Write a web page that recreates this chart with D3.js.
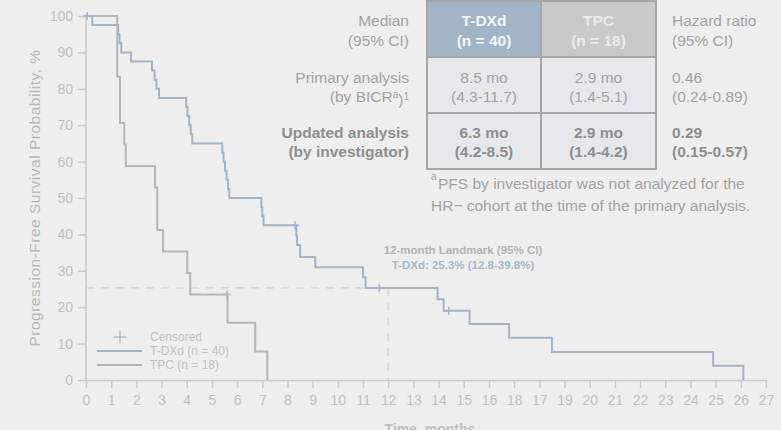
<!DOCTYPE html>
<html>
<head>
<meta charset="utf-8">
<script src="https://cdn.jsdelivr.net/npm/d3@7"></script>
<style>
  body { margin: 0; background: #eeeeee; }
  svg { display: block; font-family: "Liberation Sans", Arial, sans-serif; }
</style>
</head>
<body>
<svg id="chart" width="781" height="430"></svg>
<script>
// Kaplan-Meier steps: time (months) and PFS (%).
var tdxdTimes = [0, 0.25, 1.28, 1.33, 1.4, 1.79, 2.62, 2.72, 2.8, 2.9, 3.98, 4.03, 4.1, 4.16, 4.22,
  5.41, 5.46, 5.52, 5.58, 5.64, 5.69, 6.96, 7.0, 7.05, 8.35, 8.38, 8.5, 9.1, 11.0, 11.1,
  13.96, 14.2, 15.23, 16.8, 18.5, 24.9, 26.1];
var tdxdSurv = [100, 97.5, 95, 92.5, 90, 87.5, 85, 82.5, 80, 77.5, 75, 72.5, 70, 67.5, 65,
  62.5, 60, 57.5, 55, 52.5, 50, 47.5, 45, 42.5, 39.7, 37.1, 33.8, 31.0, 28.2, 25.3,
  22.2, 19.0, 15.4, 11.6, 7.7, 3.9, 0];
var tdxdCensorTimes = [0.05, 8.3, 11.65, 14.4];

var tpcTimes = [0, 1.24, 1.35, 1.52, 1.58, 2.74, 2.83, 3.06, 4.02, 4.14, 5.62, 6.72, 7.2];
var tpcSurv = [100, 83.3, 70.6, 64.7, 58.8, 52.9, 41.2, 35.3, 29.4, 23.5, 15.7, 7.8, 0];
var tpcCensorTimes = [5.6];

var xTickValues = d3.range(0, 28);
var xTickLabels = ["0", "1", "2", "3", "4", "5", "6", "7", "8", "9", "10", "11", "12", "13", "14",
  "15", "16", "18", "17", "19", "20", "21", "22", "23", "24", "25", "26", "27"];
var yTickValues = [0, 10, 20, 30, 40, 50, 60, 70, 80, 90, 100];

var landmarkMonth = 12;
var landmarkValue = 25.3;
var landmarkLines = ["12-month Landmark (95% CI)", "T-DXd: 25.3% (12.8-39.8%)"];

var legendLabels = ["Censored", "T-DXd (n = 40)", "TPC (n = 18)"];

// Summary table
var rowLabels = [["Median", "(95% CI)"], ["Primary analysis", "(by BICR"], ["Updated analysis", "(by investigator)"]];
var tdxdCells = [["T-DXd", "(n = 40)"], ["8.5 mo", "(4.3-11.7)"], ["6.3 mo", "(4.2-8.5)"]];
var tpcCells = [["TPC", "(n = 18)"], ["2.9 mo", "(1.4-5.1)"], ["2.9 mo", "(1.4-4.2)"]];
var hrCells = [["Hazard ratio", "(95% CI)"], ["0.46", "(0.24-0.89)"], ["0.29", "(0.15-0.57)"]];
var footnoteLines = ["PFS by investigator was not analyzed for the", "HR\u2212 cohort at the time of the primary analysis."];

var colors = {
  tdxd: "#a4b4c7",
  tpc: "#b6b6b6",
  axis: "#c9c9c9",
  tick: "#bfbfbf",
  text: "#a2a2a2",
  bold: "#8e8e8e"
};

var svg = d3.select("#chart");

var x = d3.scaleLinear().domain([0, 27]).range([86, 766]);
var y = d3.scaleLinear().domain([0, 100]).range([380, 16]);

// Axes
var xAxis = svg.append("g")
    .attr("transform", "translate(0," + y(0) + ")")
    .call(d3.axisBottom(x).tickValues(xTickValues)
      .tickFormat(function(d, i) { return xTickLabels[i]; })
      .tickSize(8).tickPadding(7).tickSizeOuter(0));

var yAxis = svg.append("g")
    .attr("transform", "translate(" + x(0) + ",0)")
    .call(d3.axisLeft(y).tickValues(yTickValues).tickSize(8).tickPadding(5).tickSizeOuter(0));

[xAxis, yAxis].forEach(function(a) {
  a.select(".domain").attr("stroke", colors.axis).attr("stroke-width", 1.5);
  a.selectAll(".tick line").attr("stroke", colors.axis).attr("stroke-width", 1.5);
  a.selectAll(".tick text")
    .attr("fill", colors.tick)
    .style("font-family", "'Liberation Sans Narrow', 'Arial Narrow', sans-serif")
    .style("font-size", "14px");
});
yAxis.select(".domain").attr("d", "M0," + y(0) + "V" + (y(100) - 2));

svg.append("text")
    .attr("transform", "translate(40," + (y(0) + y(100)) / 2 + ") rotate(-90)")
    .attr("text-anchor", "middle")
    .attr("fill", "#b8b8b8")
    .style("font-size", "15.5px")
    .style("letter-spacing", "0.5px")
    .text("Progression-Free Survival Probability, %");

svg.append("text")
    .attr("x", 430)
    .attr("y", 434)
    .attr("text-anchor", "middle")
    .attr("fill", colors.tick)
    .style("font-size", "14px")
    .style("font-weight", "bold")
    .text("Time, months");

// Landmark guides
var dash = svg.append("g")
    .attr("stroke", "#d3d3d3")
    .attr("stroke-width", 1.2)
    .attr("stroke-dasharray", "8,7");
dash.append("line")
    .attr("x1", x(0)).attr("x2", x(landmarkMonth))
    .attr("y1", y(landmarkValue)).attr("y2", y(landmarkValue));
dash.append("line")
    .attr("x1", x(landmarkMonth)).attr("x2", x(landmarkMonth))
    .attr("y1", y(landmarkValue)).attr("y2", y(0));

// Curves
var line = d3.line()
    .x(function(d) { return x(d[0]); })
    .y(function(d) { return y(d[1]); })
    .curve(d3.curveStepAfter);

function survAt(times, surv, t) {
  var v = surv[0];
  for (var i = 0; i < times.length; i++) {
    if (times[i] <= t) v = surv[i];
  }
  return v;
}

var series = [
  { times: tpcTimes, surv: tpcSurv, censor: tpcCensorTimes, color: colors.tpc },
  { times: tdxdTimes, surv: tdxdSurv, censor: tdxdCensorTimes, color: colors.tdxd }
];

series.forEach(function(s) {
  svg.append("path")
      .datum(d3.zip(s.times, s.surv))
      .attr("fill", "none")
      .attr("stroke", s.color)
      .attr("stroke-width", 2)
      .attr("d", line);

  svg.selectAll(null)
      .data(s.censor)
      .enter().append("path")
      .attr("transform", function(t) {
        return "translate(" + x(t) + "," + y(survAt(s.times, s.surv, t)) + ")";
      })
      .attr("d", "M-4,0H4M0,-4V4")
      .attr("stroke", s.color)
      .attr("stroke-width", 1.5);
});

// Landmark annotation
svg.selectAll(".landmark")
    .data(landmarkLines)
    .enter().append("text")
    .attr("class", "landmark")
    .attr("x", 463)
    .attr("y", function(d, i) { return 250 + i * 15; })
    .attr("dy", "0.35em")
    .attr("text-anchor", "middle")
    .attr("fill", function(d, i) { return i ? "#a8b8cb" : "#b3b3b3"; })
    .style("font-size", "11.5px")
    .style("font-weight", "bold")
    .text(function(d) { return d; });

// Legend
var legend = svg.append("g").attr("transform", "translate(97,337)");
legend.append("path")
    .attr("d", "M17,0H29M23,-6V6")
    .attr("stroke", "#bdbdbd")
    .attr("stroke-width", 1.5);
legend.selectAll("line")
    .data([colors.tdxd, colors.tpc])
    .enter().append("line")
    .attr("x1", 0).attr("x2", 45)
    .attr("y1", function(d, i) { return 14 + i * 14; })
    .attr("y2", function(d, i) { return 14 + i * 14; })
    .attr("stroke", function(d) { return d; })
    .attr("stroke-width", 2);
legend.selectAll("text")
    .data(legendLabels)
    .enter().append("text")
    .attr("x", 53)
    .attr("y", function(d, i) { return i * 14; })
    .attr("dy", "0.35em")
    .attr("fill", "#c2c2c2")
    .style("font-size", "12px")
    .text(function(d) { return d; });

// Table
var tbl = { left: 427, mid: 541, right: 656, rows: [1, 57, 113, 169] };
var headerFill = ["#a2b5c8", "#c9c9c9"];
var bodyFill = "#e7e8eb";

var table = svg.append("g");
[0, 1, 2].forEach(function(r) {
  table.append("rect")
      .attr("x", tbl.left).attr("y", tbl.rows[r])
      .attr("width", tbl.mid - tbl.left).attr("height", tbl.rows[r + 1] - tbl.rows[r])
      .attr("fill", r === 0 ? headerFill[0] : bodyFill);
  table.append("rect")
      .attr("x", tbl.mid).attr("y", tbl.rows[r])
      .attr("width", tbl.right - tbl.mid).attr("height", tbl.rows[r + 1] - tbl.rows[r])
      .attr("fill", r === 0 ? headerFill[1] : bodyFill);
});
var border = table.append("g").attr("stroke", "#a5a5a5").attr("stroke-width", 2).attr("fill", "none");
border.append("rect")
    .attr("x", tbl.left).attr("y", tbl.rows[0])
    .attr("width", tbl.right - tbl.left).attr("height", tbl.rows[3] - tbl.rows[0]);
border.append("line").attr("x1", tbl.mid).attr("x2", tbl.mid).attr("y1", tbl.rows[0]).attr("y2", tbl.rows[3]);
[1, 2].forEach(function(r) {
  border.append("line").attr("x1", tbl.left).attr("x2", tbl.right)
      .attr("y1", tbl.rows[r]).attr("y2", tbl.rows[r]);
});

var lineY = [[21, 41], [78, 97], [133, 152]];

function cellText(values, xPos, anchor, colorFn) {
  values.forEach(function(pair, r) {
    pair.forEach(function(txt, k) {
      var t = table.append("text")
          .attr("x", xPos)
          .attr("y", lineY[r][k])
          .attr("dy", "0.35em")
          .attr("text-anchor", anchor)
          .attr("fill", colorFn(r))
          .style("font-size", "15.5px")
          .style("font-weight", r === 0 && (anchor === "middle") ? "bold" : (r === 2 ? "bold" : "normal"));
      if (anchor === "end" && r === 1 && k === 1) {
        t.append("tspan").text(txt);
        t.append("tspan").attr("dy", "-0.45em").style("font-size", "10px").text("a");
        t.append("tspan").attr("dy", "0.45em").text(")");
        t.append("tspan").attr("dy", "-0.45em").style("font-size", "10px").text("1");
      } else {
        t.text(txt);
      }
    });
  });
}

cellText(rowLabels, 409, "end", function(r) { return r === 2 ? colors.bold : colors.text; });
cellText(tdxdCells, 484, "middle", function(r) { return r === 0 ? "#f4f6f8" : (r === 2 ? colors.bold : colors.text); });
cellText(tpcCells, 598.5, "middle", function(r) { return r === 0 ? "#ececec" : (r === 2 ? colors.bold : colors.text); });
cellText(hrCells, 672, "start", function(r) { return r === 2 ? colors.bold : colors.text; });

// Footnote
svg.selectAll(".foot")
    .data(footnoteLines)
    .enter().append("text")
    .attr("class", "foot")
    .attr("x", function(d, i) { return i ? 431 : 438; })
    .attr("y", function(d, i) { return 184 + i * 22; })
    .attr("dy", "0.35em")
    .attr("fill", colors.text)
    .style("font-size", "15.5px")
    .text(function(d) { return d; });
svg.append("text")
    .attr("x", 431).attr("y", 180)
    .attr("fill", colors.text)
    .style("font-size", "10px")
    .text("a");
</script>
</body>
</html>
